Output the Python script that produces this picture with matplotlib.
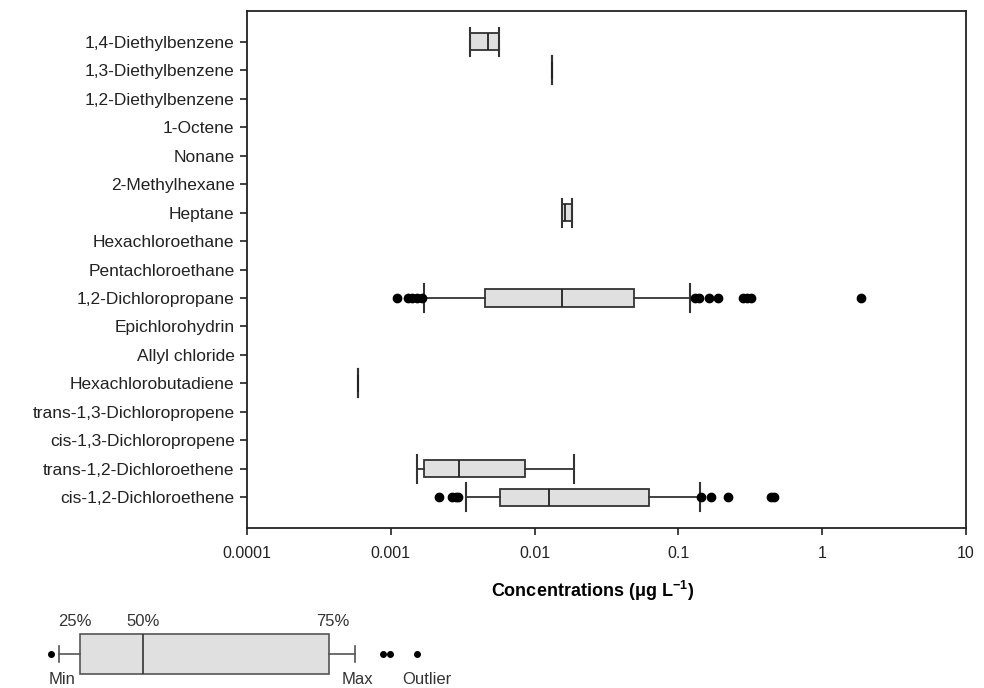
import numpy as np
import matplotlib
matplotlib.use("Agg")
import matplotlib.pyplot as plt

plt.rcParams['font.family'] = ['Liberation Sans', 'DejaVu Sans']

# categories from top to bottom
compounds = ['1,4-Diethylbenzene', '1,3-Diethylbenzene', '1,2-Diethylbenzene', '1-Octene',
             'Nonane', '2-Methylhexane', 'Heptane', 'Hexachloroethane', 'Pentachloroethane',
             '1,2-Dichloropropane', 'Epichlorohydrin', 'Allyl chloride', 'Hexachlorobutadiene',
             'trans-1,3-Dichloropropene', 'cis-1,3-Dichloropropene', 'trans-1,2-Dichloroethene',
             'cis-1,2-Dichloroethene']

# box statistics (ug/L): min, q1, median, q3, max ; None = not detected
whis_lo = [0.00353, 0.0133, None, None, None, None, 0.0154, None, None, 0.00169, None, None, 0.000588, None, None, 0.00153, 0.00335]
q1      = [0.00353, 0.0133, None, None, None, None, 0.0154, None, None, 0.0045,  None, None, 0.000588, None, None, 0.00171, 0.00575]
median  = [0.00472, 0.0133, None, None, None, None, 0.0164, None, None, 0.0154,  None, None, 0.000588, None, None, 0.00296, 0.0126]
q3      = [0.00563, 0.0133, None, None, None, None, 0.0183, None, None, 0.0492,  None, None, 0.000588, None, None, 0.00855, 0.0622]
whis_hi = [0.00563, 0.0133, None, None, None, None, 0.0183, None, None, 0.121,   None, None, 0.000588, None, None, 0.0187, 0.1406]

outliers = {
    '1,2-Dichloropropane': [0.0011, 0.00132, 0.00141, 0.00153, 0.00165, 0.130, 0.140,
                            0.164, 0.19, 0.28, 0.30, 0.32, 1.85],
    'cis-1,2-Dichloroethene': [0.00216, 0.00265, 0.00282, 0.00295, 0.1435, 0.1695,
                               0.2196, 0.44, 0.46],
}

n = len(compounds)
ypos = np.arange(n)[::-1]

fig = plt.figure(figsize=(9.84, 6.88), dpi=100)
ax = fig.add_axes([247/984, 1-528/688, (966-247)/984, (528-11)/688])

stats, pos = [], []
for i, name in enumerate(compounds):
    if median[i] is None:
        continue
    stats.append(dict(whislo=whis_lo[i], q1=q1[i], med=median[i], q3=q3[i],
                      whishi=whis_hi[i], fliers=outliers.get(name, [])))
    pos.append(ypos[i])

edge = '#333333'
ax.bxp(stats, positions=pos, orientation='horizontal', widths=0.6, capwidths=0.98,
       patch_artist=True,
       boxprops=dict(facecolor='#e0e0e0', edgecolor=edge, linewidth=1.3),
       medianprops=dict(color='#222222', linewidth=1.3),
       whiskerprops=dict(color=edge, linewidth=1.3),
       capprops=dict(color=edge, linewidth=1.5),
       flierprops=dict(marker='o', markerfacecolor='black', markeredgecolor='black',
                       markersize=6, linestyle='none'))

ax.set_xscale('log')
ax.set_xlim(0.0001, 10)
ax.set_ylim(-1.08, n - 1 + 1.08)
ax.set_xticks([0.0001, 0.001, 0.01, 0.1, 1, 10])
ax.set_xticklabels(['0.0001', '0.001', '0.01', '0.1', '1', '10'])
ax.xaxis.set_minor_locator(matplotlib.ticker.NullLocator())
ax.set_yticks(ypos)
ax.set_yticklabels(compounds)
ax.tick_params(axis='both', direction='out', length=5, width=1.2, labelsize=11.5, colors='#222222')
ax.tick_params(axis='y', labelsize=12.5, pad=4)
ax.tick_params(axis='x', pad=8)
for s in ax.spines.values():
    s.set_linewidth(1.3)
    s.set_color('#222222')
ax.set_xlabel('Concentrations (\u03bcg L$^{\\mathregular{-1}}$)', fontsize=13, fontweight='bold',
              labelpad=13, x=0.48)

# key explaining the box symbols
kx = fig.add_axes([0, 0, 1, 1], facecolor='none')
kx.set_xlim(0, 984)
kx.set_ylim(688, 0)
kx.axis('off')
kx.bxp([dict(whislo=59, q1=80, med=143, q3=329, whishi=355, fliers=[51, 383, 390, 417])],
       positions=[654], orientation='horizontal', widths=40, capwidths=16, patch_artist=True,
       boxprops=dict(facecolor='#e0e0e0', edgecolor='#555555', linewidth=1.2),
       medianprops=dict(color='#333333', linewidth=1.2),
       whiskerprops=dict(color='#555555', linewidth=1.2),
       capprops=dict(color='#555555', linewidth=1.2),
       flierprops=dict(marker='o', markerfacecolor='black', markeredgecolor='black',
                       markersize=4, linestyle='none'))
for txt, x, y in [('25%', 75, 622), ('50%', 143, 622), ('75%', 333, 622),
                  ('Min', 62, 680), ('Max', 357, 680), ('Outlier', 427, 680)]:
    kx.text(x, y, txt, ha='center', va='center', fontsize=12, color='#333333')

fig.savefig('out.png', dpi=100)
